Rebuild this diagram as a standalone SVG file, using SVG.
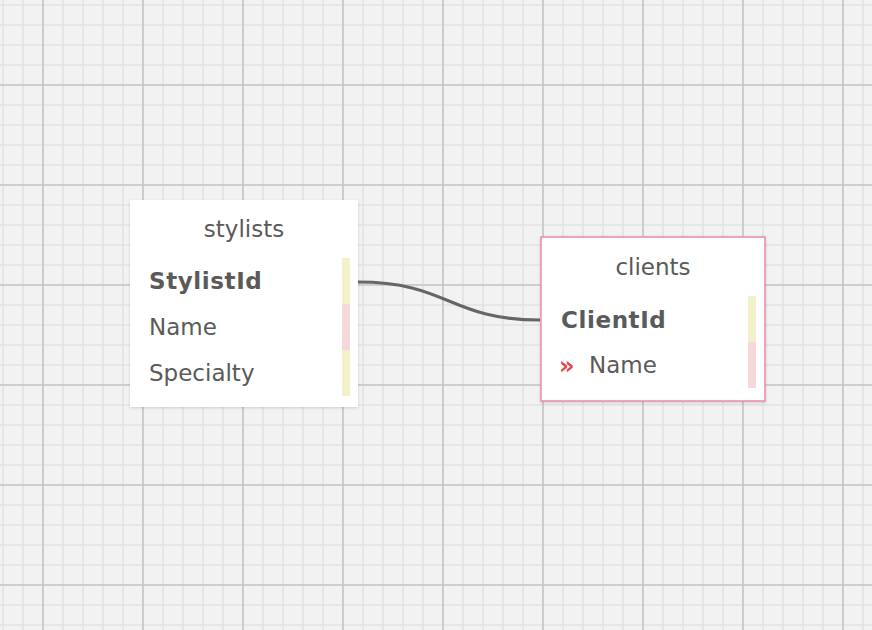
<svg xmlns="http://www.w3.org/2000/svg" width="872" height="630" viewBox="0 0 872 630">
<style>
.title{font-family:"DejaVu Sans",Verdana,sans-serif;font-size:23px;fill:#5a5a5a;text-anchor:middle}
.field{font-family:"DejaVu Sans",Verdana,sans-serif;font-size:23px;fill:#5a5a5a}
.key{font-weight:bold;letter-spacing:0.6px}
.yel{fill:#f2f1c9}
.pink{fill:#f6d8da}
.card{fill:#ffffff}
</style>
<defs>
<pattern id="minor" x="2" y="4" width="20" height="20" patternUnits="userSpaceOnUse">
<path d="M0 1H20M1 0V20" stroke="#e2e2e2" stroke-width="1.6" fill="none"/>
</pattern>
<pattern id="major" x="42" y="84" width="100" height="100" patternUnits="userSpaceOnUse">
<path d="M0 1H100M1 0V100" stroke="#c6c6c6" stroke-width="1.6" fill="none"/>
</pattern>
<filter id="sh" x="-10%" y="-10%" width="120%" height="120%">
<feDropShadow dx="0" dy="1" stdDeviation="1.5" flood-color="#000" flood-opacity="0.15"/>
</filter>
</defs>
<rect width="872" height="630" fill="#f2f2f2"/>
<rect width="872" height="630" fill="url(#minor)"/>
<rect width="872" height="630" fill="url(#major)"/>
<g id="connectors">
<path d="M358 282 C449 282 449 320 540 320" fill="none" stroke="#666666" stroke-width="3"/>
</g>
<g id="stylists">
<rect class="card" x="130" y="200" width="228" height="207" filter="url(#sh)"/>
<text class="title" x="244" y="237">stylists</text>
<rect class="yel" x="342" y="258" width="8" height="46"/>
<rect class="pink" x="342" y="304" width="8" height="46"/>
<rect class="yel" x="342" y="350" width="8" height="46"/>
<text class="field key" x="149" y="289">StylistId</text>
<text class="field" x="149" y="335">Name</text>
<text class="field" x="149" y="381">Specialty</text>
</g>
<g id="clients">
<rect class="card" x="541" y="237" width="224" height="164" stroke="#e98aa6" stroke-width="1.5" filter="url(#sh)"/>
<text class="title" x="653" y="275">clients</text>
<rect class="yel" x="748" y="296" width="8" height="46"/>
<rect class="pink" x="748" y="342" width="8" height="46"/>
<text class="field key" x="561" y="328">ClientId</text>
<text class="field" x="559" y="374" style="fill:#e04848;font-weight:bold;font-size:24px">»</text>
<text class="field" x="589" y="373">Name</text>
</g>
</svg>
